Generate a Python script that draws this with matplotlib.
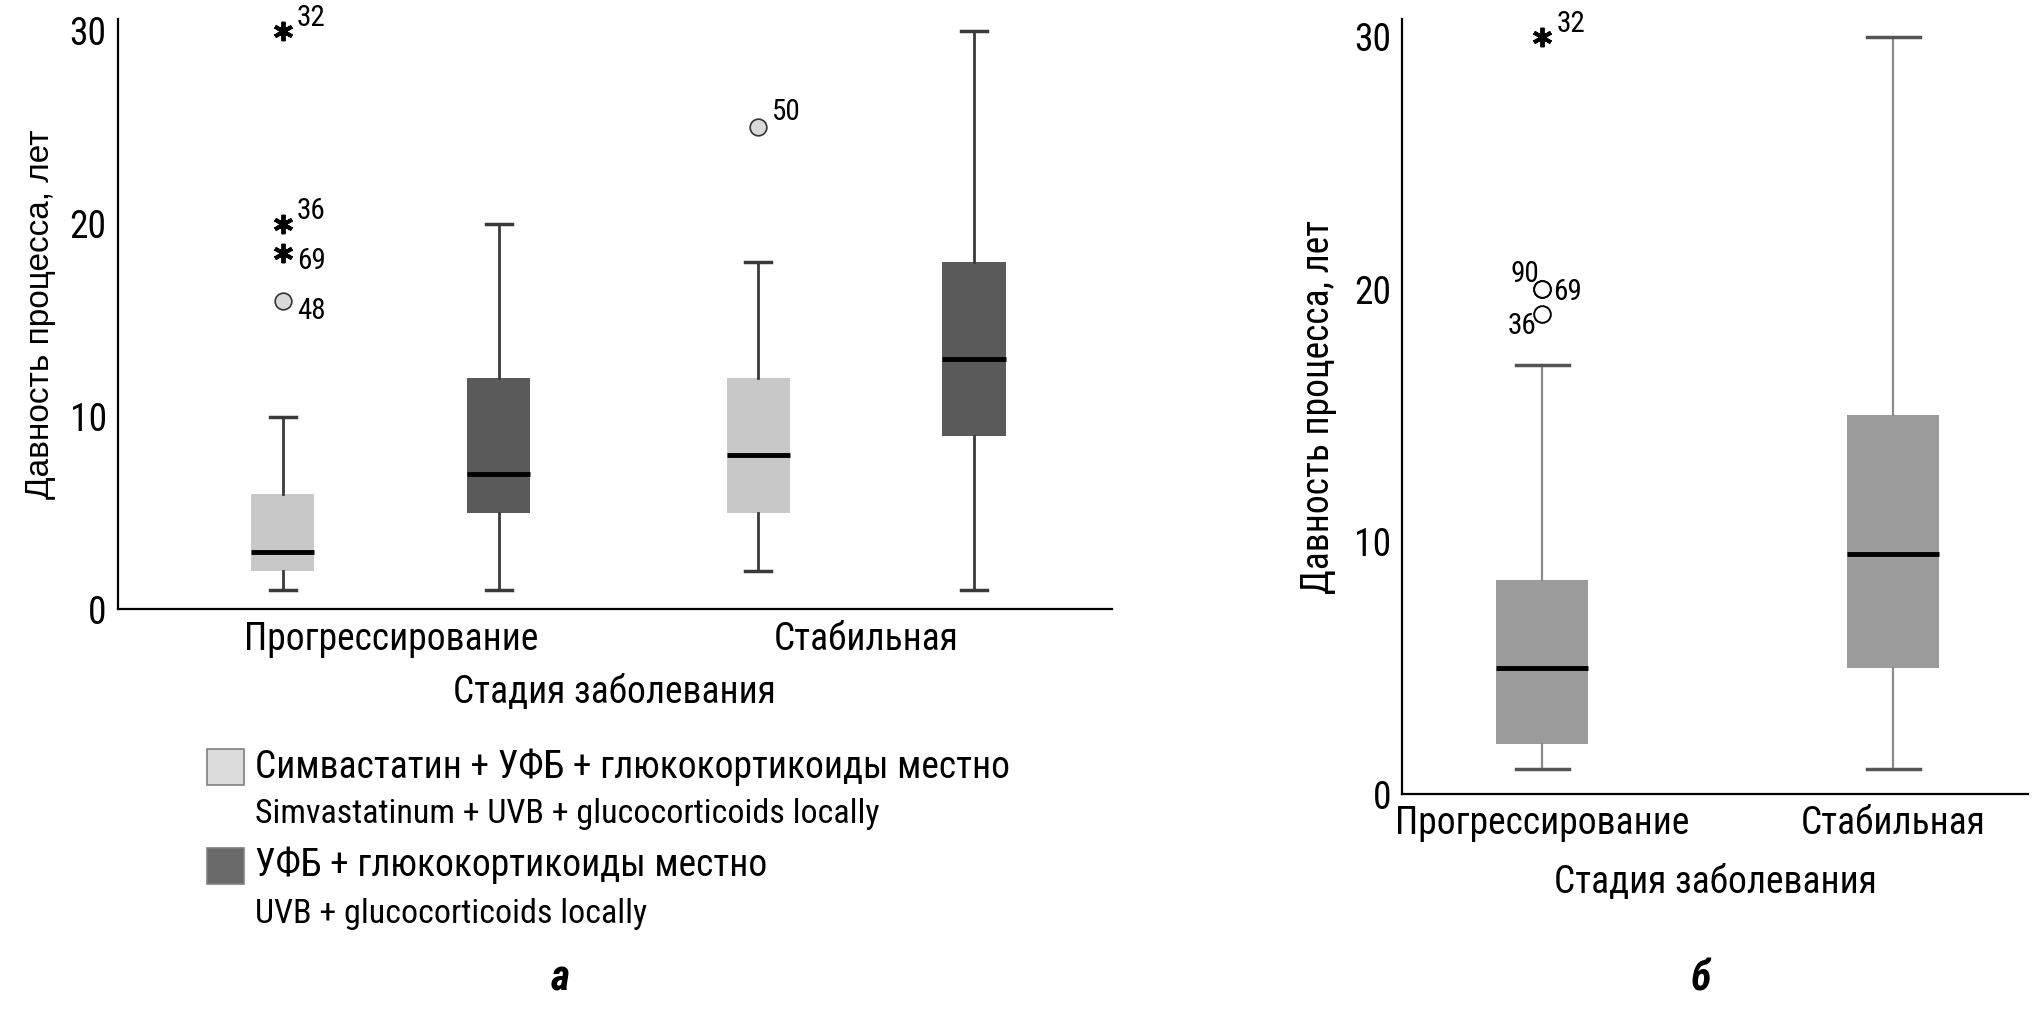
import matplotlib
matplotlib.use("Agg")
import matplotlib.pyplot as plt
from matplotlib import font_manager
from matplotlib.patches import Rectangle

# fonts: look for a narrow face, the original uses a condensed grotesque
narrow_family, narrow_stretch = "DejaVu Sans", "normal"
for f in font_manager.fontManager.ttflist:
    if f.name in ("Roboto Condensed", "Liberation Sans Narrow", "Open Sans Condensed"):
        narrow_family, narrow_stretch = f.name, "normal"
        break
else:
    for f in font_manager.fontManager.ttflist:
        st = str(f.stretch)
        if f.name in ("Noto Sans", "DejaVu Sans", "Roboto", "Open Sans") and \
                ("condensed" in st or st in ("300", "400", "200")) and "Condensed" in f.fname:
            narrow_family, narrow_stretch = f.name, f.stretch
            break
plt.rcParams["font.family"] = [narrow_family, "DejaVu Sans"]
plt.rcParams["font.stretch"] = narrow_stretch
SHRINK = 1.0 if narrow_family != "DejaVu Sans" or narrow_stretch != "normal" else 0.82

# ---- data, panel a ----
groups_a = ["Прогрессирование", "Стабильная"]
series_a = ["Симвастатин + УФБ + глюкокортикоиды местно", "УФБ + глюкокортикоиды местно"]
series_a_en = ["Simvastatinum + UVB + glucocorticoids locally", "UVB + glucocorticoids locally"]
# order: [simva-progr, uvb-progr, simva-stab, uvb-stab]
whislo_a = [1, 1, 2, 1]
q1_a = [2, 5, 5, 9]
med_a = [3, 7, 8, 13]
q3_a = [6, 12, 12, 18]
whishi_a = [10, 20, 18, 30]
# outliers: (box index, value, label, kind)
out_box_a = [0, 0, 0, 0, 2]
out_val_a = [30, 20, 18.5, 16, 25]
out_lab_a = ["32", "36", "69", "48", "50"]
out_kind_a = ["*", "*", "*", "o", "o"]

# ---- data, panel b ----
groups_b = ["Прогрессирование", "Стабильная"]
whislo_b = [1, 1]
q1_b = [2, 5]
med_b = [5, 9.5]
q3_b = [8.5, 15]
whishi_b = [17, 30]
out_box_b = [0, 0, 0, 0]
out_val_b = [30, 20, 20, 19]
out_lab_b = ["32", "90", "69", "36"]
out_kind_b = ["*", "o", "o", "o"]

fig = plt.figure(figsize=(20.32, 10.09), dpi=100)

def fs(x):
    return x * SHRINK

def stats(wl, a, m, b, wh):
    return [dict(whislo=wl[i], q1=a[i], med=m[i], q3=b[i], whishi=wh[i], fliers=[])
            for i in range(len(m))]

def style_axes(ax):
    for s in ["top", "right"]:
        ax.spines[s].set_visible(False)
    ax.spines["left"].set_linewidth(1.6)
    ax.spines["bottom"].set_linewidth(1.6)
    ax.tick_params(length=0, labelsize=fs(27), pad=8)

# ---------- panel a ----------
ax1 = fig.add_axes([0.058, 0.396, 0.489, 0.585])
pos_a = [-0.227, 0.227, 1 - 0.227, 1 + 0.227]
cols_a = ["#c8c8c8", "#5a5a5a", "#c8c8c8", "#5a5a5a"]
bp = ax1.bxp(stats(whislo_a, q1_a, med_a, q3_a, whishi_a), positions=pos_a,
             widths=0.133, capwidths=0.055, patch_artist=True, showfliers=False,
             boxprops=dict(linewidth=0),
             whiskerprops=dict(color="#3a3a3a", linewidth=2),
             capprops=dict(color="#3a3a3a", linewidth=2.5),
             medianprops=dict(color="black", linewidth=3.5))
for patch, c in zip(bp["boxes"], cols_a):
    patch.set_facecolor(c)
    patch.set_edgecolor(c)
for b, v, lab, k in zip(out_box_a, out_val_a, out_lab_a, out_kind_a):
    x = pos_a[b]
    if k == "*":
        ax1.plot(x, v, marker=(6, 2, 0), ms=14, mew=2.8, color="black", zorder=4)
    else:
        ax1.plot(x, v, marker="o", ms=12, mfc="#d9d9d9", mec="#333333", mew=1.2, zorder=4)
# index labels next to marks
lab_off_a = {"32": (10, 9), "36": (10, 9), "69": (10, -6), "48": (10, -7), "50": (10, 11)}
for b, v, lab in zip(out_box_a, out_val_a, out_lab_a):
    dx, dy = lab_off_a[lab]
    ax1.annotate(lab, (pos_a[b], v), xytext=(dx, dy), textcoords="offset points",
                 fontsize=fs(21), ha="left", va="center")
ax1.set_xlim(-0.574, 1.516)
ax1.set_ylim(0, 30.6)
ax1.set_yticks([0, 10, 20, 30])
ax1.set_xticks([0, 1])
ax1.set_xticklabels(groups_a)
style_axes(ax1)
ax1.set_xlabel("Стадия заболевания", fontsize=fs(27), labelpad=12)
ax1.set_ylabel("Давность процесса, лет", fontsize=24, family=["Liberation Sans", "DejaVu Sans"],
               stretch="normal", labelpad=10)

# legend of panel a
leg_y = [0.240, 0.142]
leg_y_en = [0.193, 0.0945]
leg_cols = ["#dcdcdc", "#6a6a6a"]
for i in range(2):
    fig.patches.append(Rectangle((0.102, leg_y[i] - 0.018), 0.018, 0.036, transform=fig.transFigure,
                                 facecolor=leg_cols[i], edgecolor="#808080", linewidth=1.2))
    fig.text(0.1256, leg_y[i], series_a[i], fontsize=fs(27), va="center", ha="left")
    fig.text(0.1256, leg_y_en[i], series_a_en[i], fontsize=fs(24.5), va="center", ha="left")
fig.text(0.2755, 0.030, "а", fontsize=30, fontweight="bold", fontstyle="italic", ha="center", va="center")

# ---------- panel b ----------
ax2 = fig.add_axes([0.690, 0.213, 0.308, 0.768])
pos_b = [0, 1]
bp2 = ax2.bxp(stats(whislo_b, q1_b, med_b, q3_b, whishi_b), positions=pos_b,
              widths=0.262, capwidths=0.15, patch_artist=True, showfliers=False,
              boxprops=dict(linewidth=0),
              whiskerprops=dict(color="#8a8a8a", linewidth=1.6),
              capprops=dict(color="#555555", linewidth=2.5),
              medianprops=dict(color="black", linewidth=3.5))
for patch in bp2["boxes"]:
    patch.set_facecolor("#9b9b9b")
    patch.set_edgecolor("#9b9b9b")
for b, v, lab, k in zip(out_box_b, out_val_b, out_lab_b, out_kind_b):
    x = pos_b[b]
    if k == "*":
        ax2.plot(x, v, marker=(6, 2, 0), ms=14, mew=2.8, color="black", zorder=4)
    else:
        ax2.plot(x, v, marker="o", ms=12, mfc="white", mec="black", mew=1.4, zorder=4)
lab_off_b = {"32": (10, 9, "left"), "90": (-2, 11, "right"), "69": (8, -2, "left"), "36": (-4, -8, "right")}
for b, v, lab in zip(out_box_b, out_val_b, out_lab_b):
    dx, dy, ha = lab_off_b[lab]
    ax2.annotate(lab, (pos_b[b], v), xytext=(dx, dy), textcoords="offset points",
                 fontsize=fs(21), ha=ha, va="center")
ax2.set_xlim(-0.40, 1.384)
ax2.set_ylim(0, 30.7)
ax2.set_yticks([0, 10, 20, 30])
ax2.set_xticks([0, 1])
ax2.set_xticklabels(groups_b)
style_axes(ax2)
ax2.set_xlabel("Стадия заболевания", fontsize=fs(27), labelpad=16)
ax2.set_ylabel("Давность процесса, лет", fontsize=fs(27), labelpad=12)
fig.text(0.837, 0.030, "б", fontsize=30, fontweight="bold", fontstyle="italic", ha="center", va="center")

fig.savefig("out.png", dpi=100)
